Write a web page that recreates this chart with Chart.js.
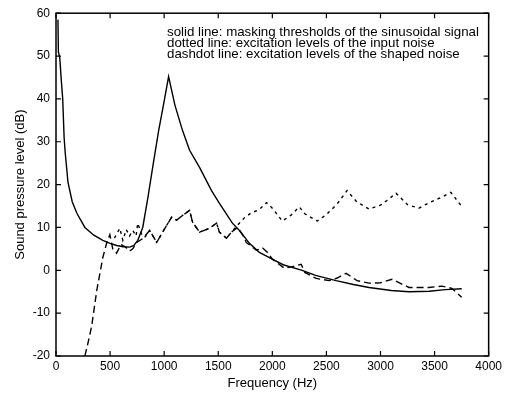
<!DOCTYPE html>
<html>
<head>
<meta charset="utf-8">
<script src="https://cdn.jsdelivr.net/npm/chart.js@4"></script>
<style>
body{margin:0;background:#fff}
canvas{display:block}
</style>
</head>
<body>
<canvas id="chart" width="505" height="394"></canvas>
<script>

const solidFreq=[18,22,35,50,62,75,85,111,150,193,267,350,433,500,562,620,682,720,756,802,850,900,949,1000,1041,1100,1170,1235,1327,1438,1511,1631,1696,1788,1880,2000,2100,2276,2400,2590,2750,2894,3100,3263,3450,3600,3751]
const solidLevel=[58.5,51,49.5,44,40,31,27.5,20.5,16,13.3,10,8.2,7,6.3,5.8,5.5,5.4,5.8,7,10,17,25,32.6,39.5,45.2,38.5,32.6,28,24,18.6,15.6,11,9.3,6.3,4.2,2.6,1.3,0,-1.2,-2.4,-3.3,-4,-4.7,-5,-4.9,-4.5,-4.3]

const dottedFreq=[540,590,618,650,680,710,740,756,790,820,866,931,986,1069,1115,1170,1235,1263,1327,1419,1484,1511,1576,1622,1677,1740,1800,1880,1945,2000,2092,2170,2249,2300,2415,2500,2600,2691,2780,2894,3000,3060,3143,3250,3355,3450,3560,3650,3742]
const dottedLevel=[7.5,9.8,7,9.5,8,9.3,8,11,8.5,7.7,9.3,6.5,8.9,12.4,11.7,12.8,14,11.2,8.9,9.8,11,8.9,7.5,8.9,10.5,12.2,13.3,14.2,15.8,14.5,11.5,12.8,14.8,13.2,11.5,13,15.5,18.6,16,14.3,15.2,16.3,18,15.3,14.5,15.8,17,18.2,15.2]

const dashdotFreq=[267,300,330,377,433,470,498,525,560,600,640,680,710,746,802,866,931,986,1069,1115,1170,1235,1263,1327,1419,1484,1511,1576,1622,1677,1720,1760,1852,1910,1954,2000,2110,2180,2267,2300,2405,2525,2600,2682,2783,2894,3000,3106,3263,3447,3567,3659,3751]
const dashdotLevel=[-20,-16.5,-13,-4.7,3,6.5,8.3,5,4,6,5.5,4.5,5,6.5,7.4,9.3,6.5,8.9,12.4,11.7,12.8,14,11.2,8.9,9.8,11,8.9,7.5,8.9,10,8.5,6.5,4.7,5.2,4.2,2.6,0.5,0.8,1.4,-0.5,-1.9,-2.4,-1.8,-0.7,-2.4,-3,-2.9,-2.1,-4,-4,-3.7,-4.2,-6.3]

const legendLines=[
"solid line: masking thresholds of the sinusoidal signal",
"dotted line: excitation levels of the input noise",
"dashdot line: excitation levels of the shaped noise"
]

function pts(xs,ys){
return xs.map((x,i)=>({x:x,y:ys[i]}))
}

const framePlugin={
id:"frame",
afterDraw(chart){
const ctx=chart.ctx
const a=chart.chartArea
const xs=chart.scales.x
const ys=chart.scales.y
ctx.save()
ctx.strokeStyle="#000"
ctx.lineWidth=1.5
ctx.strokeRect(a.left,a.top,a.right-a.left,a.bottom-a.top)
ctx.lineWidth=1.2
ctx.beginPath()
xs.ticks.forEach(t=>{
const px=xs.getPixelForValue(t.value)
ctx.moveTo(px,a.bottom);ctx.lineTo(px,a.bottom-5)
ctx.moveTo(px,a.top);ctx.lineTo(px,a.top+5)
})
ys.ticks.forEach(t=>{
const py=ys.getPixelForValue(t.value)
ctx.moveTo(a.left,py);ctx.lineTo(a.left+5,py)
ctx.moveTo(a.right,py);ctx.lineTo(a.right-5,py)
})
ctx.stroke()
ctx.fillStyle="#000"
ctx.font="13.3px 'Liberation Sans', Arial, sans-serif"
ctx.textBaseline="middle"
legendLines.forEach((s,i)=>{
ctx.fillText(s,167,32+i*11)
})
ctx.restore()
}
}

new Chart(document.getElementById("chart"),{

type:"line",

data:{
datasets:[
{
label:"solid",
data:pts(solidFreq,solidLevel),
borderColor:"#000",
borderWidth:1.4,
pointRadius:0
},
{
label:"dotted",
data:pts(dottedFreq,dottedLevel),
borderColor:"#000",
borderWidth:1.4,
borderDash:[3,4],
pointRadius:0
},
{
label:"dashdot",
data:pts(dashdotFreq,dashdotLevel),
borderColor:"#000",
borderWidth:1.4,
borderDash:[7,4],
pointRadius:0
}
]
},

options:{
responsive:false,
animation:false,
devicePixelRatio:1,
layout:{padding:{top:13,right:15,left:0,bottom:0}},
plugins:{legend:{display:false},tooltip:{enabled:false}},
scales:{
x:{
type:"linear",
min:0,
max:4000,
ticks:{stepSize:500,padding:3,color:"#000",font:{family:"'Liberation Sans', Arial",size:12},maxRotation:0,callback:v=>String(v)},
grid:{display:false,drawTicks:false},
border:{display:false},
title:{display:true,text:"Frequency (Hz)",color:"#000",font:{family:"'Liberation Sans', Arial",size:13},padding:{top:0,bottom:3}},
afterFit(s){s.height=38}
},
y:{
type:"linear",
min:-20,
max:60,
ticks:{stepSize:10,padding:6,color:"#000",font:{family:"'Liberation Sans', Arial",size:12},callback:v=>String(v)},
grid:{display:false,drawTicks:false},
border:{display:false},
title:{display:true,text:"Sound pressure level (dB)",color:"#000",font:{family:"'Liberation Sans', Arial",size:13},padding:{top:13,bottom:0}},
afterFit(s){s.width=56}
}
}
},

plugins:[framePlugin]

})

</script>
</body>
</html>
